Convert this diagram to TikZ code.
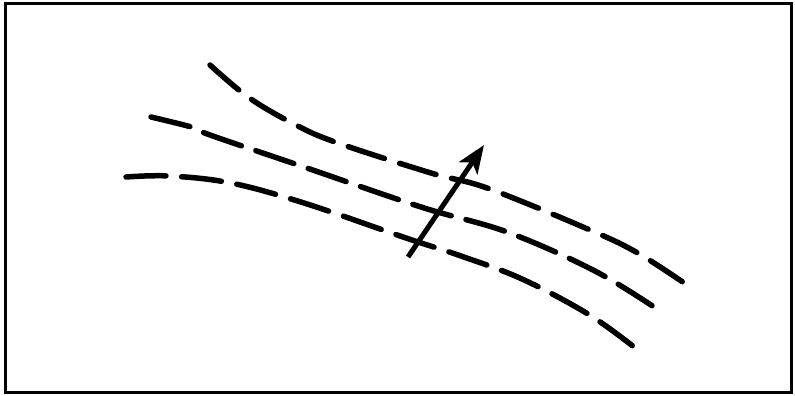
\documentclass[tikz,border=0pt]{standalone}
\usetikzlibrary{arrows.meta}
\begin{document}
\begin{tikzpicture}[x=1pt,y=-1pt,
  frame/.style={line width=3pt},
  flowline/.style={line width=5.5pt,line cap=round,dash pattern=on 38pt off 16pt},
  vec/.style={line width=5pt,-{Stealth[length=28pt,width=22pt,inset=7pt]}}]
\useasboundingbox (0,0) rectangle (795,396);
\draw[frame] (5,4) rectangle (791,392);
\draw[flowline] plot[smooth,tension=0.6] coordinates {(210,65) (248,97) (292,123) (335,142) (431,173) (487,188) (583,227) (636,252) (690,287)};
\draw[flowline,dash pattern=on 40pt off 15.3pt] plot[smooth,tension=0.6] coordinates {(151,117) (195,128) (210,135) (304,167) (421,207) (507,232) (593,270) (654,307)};
\draw[flowline,dash pattern=on 40pt off 15.7pt] plot[smooth,tension=0.6] coordinates {(126,177) (170,176) (231,183) (304,203) (406,238) (461,256) (522,279) (588,314) (634,347)};
\coordinate (s) at (408,257);
\coordinate (t) at (484,145);
\draw[vec] (s) -- (t);
\end{tikzpicture}
\end{document}
